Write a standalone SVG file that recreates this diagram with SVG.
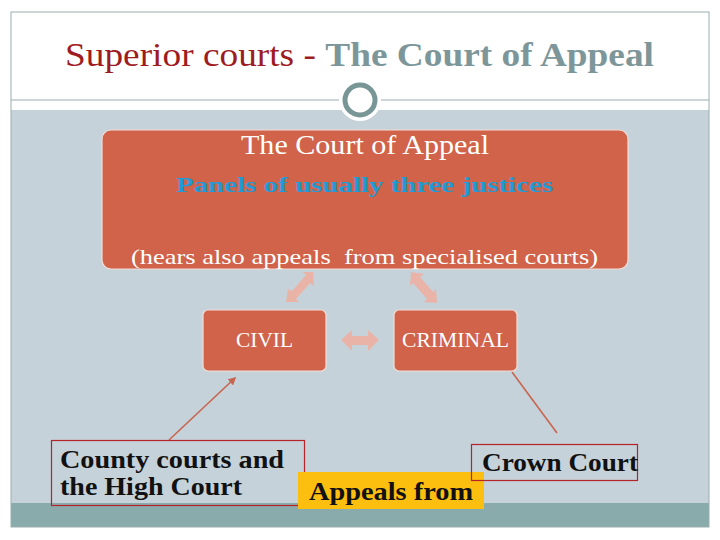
<svg xmlns="http://www.w3.org/2000/svg" width="720" height="540" viewBox="0 0 720 540" font-family="'Liberation Serif', 'Times New Roman', serif">
<defs>
<style>
.box{fill:#d0634a;stroke:#f3ddd6;stroke-width:1.2}
.wt{fill:#ffffff}
.lbl{fill:none;stroke:#b5222a;stroke-width:1.2}
.bt{font-weight:bold;fill:#111111;font-size:26px}
.conn{stroke:#c8654f;stroke-width:1.6;fill:none}
.dbl{fill:#e9b3a8}
</style>
<marker id="ah" viewBox="0 0 10 10" refX="8" refY="5" markerWidth="5" markerHeight="5" orient="auto"><path d="M0,0 L10,5 L0,10 z" fill="#c8654f"/></marker>
</defs>
<rect x="0" y="0" width="720" height="540" fill="#ffffff"/>
<g id="frame">
<rect x="11" y="110" width="698" height="394" fill="#c6d2d9"/>
<rect x="11" y="503" width="698" height="24" fill="#8aabab"/>
<rect x="11" y="12" width="698" height="515" fill="none" stroke="#9aadb0" stroke-width="1"/>
<line x1="11" y1="100" x2="709" y2="100" stroke="#9aadb0" stroke-width="1"/>
<circle cx="360" cy="100" r="21" fill="#ffffff"/>
<circle cx="360" cy="100" r="15" fill="#ffffff" stroke="#789696" stroke-width="5"/>
</g>
<g id="title">
<text x="65" y="66" font-size="33" textLength="589" lengthAdjust="spacingAndGlyphs"><tspan fill="#9e1b1f">Superior courts - </tspan><tspan fill="#7d9699" font-weight="bold">The Court of Appeal</tspan></text>
</g>
<g id="court-of-appeal">
<rect class="box" x="102" y="130" width="526" height="139" rx="9"/>
<text x="241" y="154" class="wt" font-size="28" textLength="248" lengthAdjust="spacingAndGlyphs">The Court of Appeal</text>
<text x="176" y="192" font-size="22" font-weight="bold" fill="#1f9bd7" textLength="377" lengthAdjust="spacingAndGlyphs">Panels of usually three justices</text>
<text x="131" y="264" class="wt" font-size="22" textLength="467" lengthAdjust="spacingAndGlyphs" xml:space="preserve">(hears also appeals  from specialised courts)</text>
</g>
<g id="connectors">
<g class="dbl">
<polygon points="313,272 314,286 310,283 296,299 299,302 286,302 288,289 292,291 306,275 303,272"/>
<polygon points="411,272 424,274 420,277 433,292 436,289 437,303 424,302 427,299 413,283 410,286"/>
<polygon points="341,340 352,330 352,336 368,336 368,330 379,340 368,351 368,345 352,345 352,351"/>
</g>
<line class="conn" x1="169" y1="440" x2="235" y2="378" marker-end="url(#ah)"/>
<line class="conn" x1="512" y1="372" x2="557" y2="433"/>
</g>
<g id="civil">
<rect class="box" x="203" y="310" width="123" height="61" rx="5"/>
<text x="236" y="347" class="wt" font-size="20.5" textLength="57" lengthAdjust="spacingAndGlyphs">CIVIL</text>
</g>
<g id="criminal">
<rect class="box" x="394" y="310" width="123" height="61" rx="5"/>
<text x="402" y="347" class="wt" font-size="20.5" textLength="107" lengthAdjust="spacingAndGlyphs">CRIMINAL</text>
</g>
<g id="county">
<rect class="lbl" x="51.5" y="440.5" width="253" height="65"/>
<text x="60" y="468" class="bt" textLength="224" lengthAdjust="spacingAndGlyphs">County courts and</text>
<text x="60" y="495" class="bt" textLength="182" lengthAdjust="spacingAndGlyphs">the High Court</text>
</g>
<g id="appeals-from">
<rect x="298" y="472" width="186" height="37" fill="#fdbf0f"/>
<text x="309" y="500" class="bt" textLength="164" lengthAdjust="spacingAndGlyphs">Appeals from</text>
</g>
<g id="crown">
<rect class="lbl" x="471.5" y="444.5" width="166" height="36"/>
<text x="482" y="471" class="bt" textLength="156" lengthAdjust="spacingAndGlyphs">Crown Court</text>
</g>
</svg>
